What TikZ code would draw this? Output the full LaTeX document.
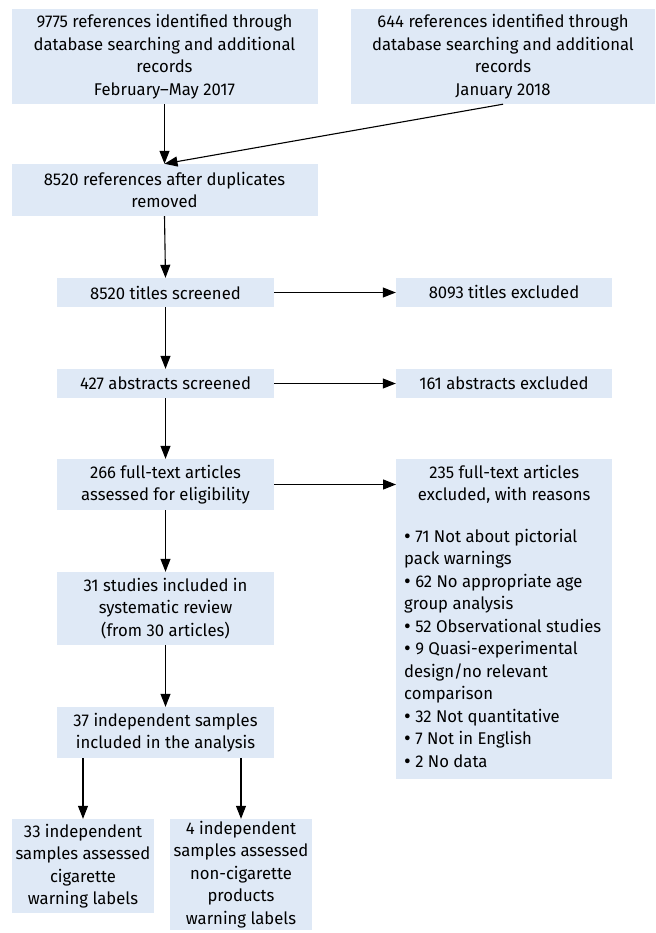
\documentclass[tikz,border=0pt]{standalone}
\usepackage{fontspec}
\setmainfont[FakeStretch=0.98]{Fira Sans}
\usetikzlibrary{arrows.meta}
\definecolor{boxblue}{RGB}{223,233,246}
\newcommand{\bigbul}{{\fontsize{21}{22.5}\selectfont\raisebox{-0.8pt}{•}}}
\tikzset{
  box/.style={fill=boxblue, inner sep=0pt, align=center, font=\fontsize{17}{22.5}\selectfont},
  txt/.style={inner sep=0pt, font=\fontsize{17}{22.5}\selectfont},
  arr/.style={-{Triangle[length=13pt,width=10pt]}, line width=1.1pt, black}
}
\begin{document}
\begin{tikzpicture}[x=1pt,y=-1pt]
\useasboundingbox (0,0) rectangle (655,933);
\node[box, minimum width=306pt, minimum height=95pt] (A) at (164.5,56.5)
  {9775 references identified through\\database searching and additional\\records\\February--May 2017};
\node[box, minimum width=304pt, minimum height=95pt] (B) at (503,56.5)
  {644 references identified through\\database searching and additional\\records\\January 2018};
\node[box, minimum width=306pt, minimum height=52pt] (C) at (164.5,190)
  {8520 references after duplicates\\removed};
\node[box, minimum width=217pt, minimum height=29pt] (D) at (165.5,292.5) {8520 titles screened};
\node[box, minimum width=216pt, minimum height=29pt] (E) at (504,292.5) {8093 titles excluded};
\node[box, minimum width=217pt, minimum height=29pt] (F) at (165.5,383.5) {427 abstracts screened};
\node[box, minimum width=216pt, minimum height=29pt] (G) at (504,383.5) {161 abstracts excluded};
\node[box, minimum width=217pt, minimum height=51pt] (H) at (165.5,484.5) {266 full-text articles\\assessed for eligibility};
\node[box, minimum width=216pt, minimum height=320pt, anchor=north west] (I) at (396,459) {};
\node[txt, align=center, anchor=north] (Ititle) at ([yshift=-6pt]I.north) {235 full-text articles\\excluded, with reasons};
\node[txt, align=left, anchor=north west] (Ilist) at (404,529)
  {\bigbul{} 71 Not about pictorial\\pack warnings\\\bigbul{} 62 No appropriate age\\group analysis\\\bigbul{} 52 Observational studies\\\bigbul{} 9 Quasi-experimental\\design/no relevant\\comparison\\\bigbul{} 32 Not quantitative\\\bigbul{} 7 Not in English\\\bigbul{} 2 No data};
\node[box, minimum width=217pt, minimum height=73pt] (J) at (165.5,608.5) {31 studies included in\\systematic review\\(from 30 articles)};
\node[box, minimum width=217pt, minimum height=51pt] (K) at (165.5,732.5) {37 independent samples\\included in the analysis};
\node[box, minimum width=142pt, minimum height=94pt] (L) at (83,866) {33 independent\\samples assessed\\cigarette\\warning labels};
\node[box, minimum width=142pt, minimum height=111pt] (M) at (241,874.5) {4 independent\\samples assessed\\non-cigarette\\products\\warning labels};

\draw[arr] (A.south) -- (C.north);
\draw[arr] (B.south) -- (C.north);
\draw[arr] (C.south) -- (D.north);
\draw[arr] (D.south) -- (F.north);
\draw[arr] (F.south) -- (H.north);
\draw[arr] (H.south) -- (J.north);
\draw[arr] (J.south) -- (K.north);
\draw[arr] (D.east) -- (E.west);
\draw[arr] (F.east) -- (G.west);
\draw[arr] (H.east) -- (I.west|-H.east);
\draw[arr] (L.north|-K.south) -- (L.north);
\draw[arr] (M.north|-K.south) -- (M.north);
\end{tikzpicture}
\end{document}
